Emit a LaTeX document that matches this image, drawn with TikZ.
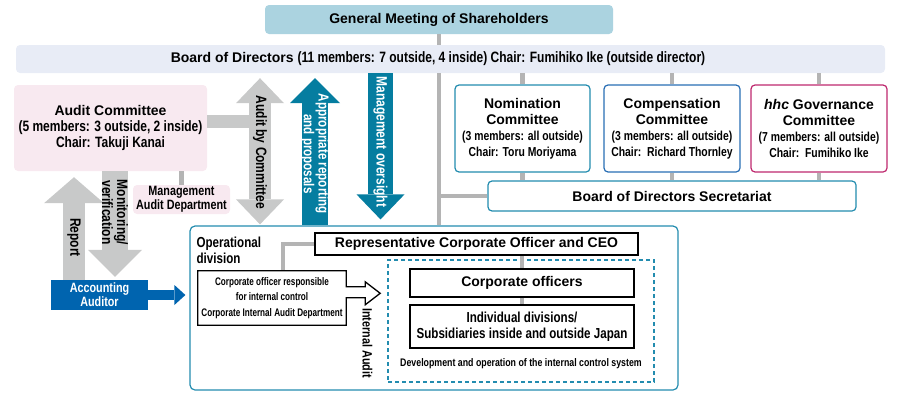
\documentclass[tikz,border=0pt]{standalone}
\usepackage{fontspec}
\setmainfont{Liberation Sans}
\newfontfamily\condfont[FakeStretch=0.8]{Liberation Sans}
\newfontfamily\narrowfont[FakeStretch=0.74]{Liberation Sans}
\usetikzlibrary{arrows.meta}
\definecolor{gmfill}{RGB}{171,211,224}
\definecolor{bdfill}{RGB}{232,236,246}
\definecolor{pinkfill}{RGB}{248,233,240}
\definecolor{tealline}{RGB}{35,140,175}
\definecolor{blueline}{RGB}{40,110,180}
\definecolor{magline}{RGB}{190,40,110}
\definecolor{tealarrow}{RGB}{5,125,160}
\definecolor{aablue}{RGB}{0,100,175}
\definecolor{arrowgray}{RGB}{200,201,201}
\definecolor{linkgray}{RGB}{180,180,180}
\newcommand{\condline}{\condfont\fontsize{13}{15.5}\selectfont}
\newcommand{\bigcond}{\condfont\fontsize{15}{16.5}\selectfont}
\newcommand{\smallcond}{\condfont\fontsize{11}{15.5}\selectfont}
\begin{document}
\begin{tikzpicture}[x=1pt,y=-1pt,
  every node/.style={inner sep=0pt, align=center, font=\bfseries\fontsize{14}{16}\selectfont},
  softbox/.style={rounded corners=4pt, minimum width=#1},
  combox/.style={draw=#1, line width=1.2pt, fill=white, rounded corners=4pt, minimum width=136pt, minimum height=87pt},
  blackbox/.style={draw=black, line width=1.6pt, fill=white},
  link/.style={draw=linkgray, line width=4.5pt},
  grayblk/.style={draw=arrowgray, line width=#1},
  tealblk/.style={draw=tealarrow, line width=#1},
  rotlabel/.style={rotate=-90, font=\bfseries\condfont\fontsize{15}{13.5}\selectfont}]
\useasboundingbox (0,0) rectangle (900,399);

% top of the structure
\node[softbox=348pt, fill=gmfill, minimum height=29pt] (gm) at (439,19.5) {General Meeting of Shareholders};
\node[softbox=869pt, fill=bdfill, minimum height=28pt] (bod) at (450.5,59) {};
\node (bodtext) at (438,59) {Board of Directors {\bigcond (11 members: 7 outside, 4 inside) Chair: Fumihiko Ike (outside director)}};

% committees
\node[combox=tealline, minimum width=135pt] (nom) at (522.5,128.5) {Nomination\\Committee\\{\condline (3 members: all outside)}\\{\condline Chair: Toru Moriyama}};
\node[combox=blueline] (comp) at (672,128.5) {Compensation\\Committee\\{\condline (3 members: all outside)}\\{\condline Chair:\ \ Richard Thornley}};
\node[combox=magline] (gov) at (819,128.5) {\textit{hhc} Governance\\Committee\\{\condline (7 members: all outside)}\\{\condline Chair:\ \ Fumihiko Ike}};
\node[draw=tealline, line width=1.2pt, fill=white, rounded corners=4pt, minimum width=368pt, minimum height=30pt] (sec) at (672,196) {Board of Directors Secretariat};

% audit side
\node[softbox=193pt, fill=pinkfill, minimum height=86pt] (ac) at (110.5,128) {Audit Committee\\{\bigcond (5 members: 3 outside, 2 inside)}\\{\bigcond Chair: Takuji Kanai}};
\node[softbox=97pt, fill=pinkfill, minimum height=29pt, font=\bfseries\condfont\fontsize{13.5}{14}\selectfont] (mad) at (181.5,199.5) {Management\\Audit Department};
\node[fill=aablue, text=white, minimum width=97pt, minimum height=30pt, font=\bfseries\condfont\fontsize{13.5}{14}\selectfont] (aa) at (99.5,295) {Accounting\\Auditor};

% operational division
\node[draw=tealline, line width=1.2pt, rounded corners=5pt, minimum width=488pt, minimum height=164pt] (op) at (434,308) {};
\node[anchor=north west, align=left, font=\bfseries\condfont\fontsize{14.5}{16}\selectfont] (optext) at ([xshift=7pt,yshift=-11pt]op.north west) {Operational\\division};
\node[blackbox, minimum width=323pt, minimum height=22pt] (ceo) at (476.5,244) {Representative Corporate Officer and CEO};
\node[minimum width=148pt, minimum height=54pt, font=\bfseries\narrowfont\fontsize{11}{15.5}\selectfont] (coi) at (272,298) {Corporate officer responsible\\for internal control\\Corporate Internal Audit Department};
\node[rotate=-90, font=\bfseries\condfont\fontsize{13.5}{14}\selectfont] (ia) at (367.5,343) {Internal Audit};
\node[draw=tealline, line width=1.2pt, dash pattern=on 4pt off 3pt, minimum width=266pt, minimum height=122pt] (ics) at (521,321) {};
\node[blackbox, minimum width=224pt, minimum height=28pt] (co) at (522,283) {Corporate officers};
\node[blackbox, minimum width=224pt, minimum height=43pt, font=\bfseries\condfont\fontsize{14.5}{16}\selectfont] (ind) at (522,326.5) {Individual divisions/\\Subsidiaries inside and outside Japan};
\node[font=\bfseries\smallcond] (dev) at (521,364) {Development and operation of the internal control system};

% columns for the connectors
\coordinate (xrep) at (74,0);
\coordinate (xmon) at (115,0);
\coordinate (xadc) at (260,0);
\coordinate (xapp) at (315,0);
\coordinate (xmgt) at (380.5,0);
\coordinate (xtrunk) at (439,0);
\coordinate (xceo) at (283,0);

% gray links
\draw[link] (gm.south) -- (gm.south |- bod.north);
\draw[link] (xtrunk |- bod.south) -- (xtrunk |- op.north);
\draw[link] (xtrunk |- sec.west) -- (sec.west);
\foreach \c in {nom,comp,gov} {
  \draw[link] (\c.north |- bod.south) -- (\c.north);
  \draw[link] (\c.south) -- (\c.south |- sec.north);
}
\draw[link] (mad.north) -- (mad.north |- ac.south);
\draw[link] (ceo.west) -| (xceo |- coi.north);
\draw[link] (co.north |- ceo.south) -- (co.north);
\draw[link] (co.south) -- (ind.north);

% outline arrow of the internal audit
\draw[line width=1.3pt, line join=miter] (coi.north west) -- (coi.north east) -- ++(0,16) -- ++(19,0) -- ++(0,-5)
  -- ++(15,11.5) -- ++(-15,11.5) -- ++(0,-7) -- ++(-19,0) |- (coi.south west) -- cycle;

% block arrows
\draw[grayblk=13pt] ([yshift=6.5pt]ac.east) -- ++(45,0);
\draw[grayblk=22pt, -{Triangle[length=26pt,width=60pt,line width=0pt]}, shorten >=6pt]
  (xrep |- aa.north) -- (xrep |- ac.south) node[rotlabel, pos=0.39] {Report};
\draw[grayblk=26pt, -{Triangle[length=27pt,width=54pt,line width=0pt]}, shorten >=3pt]
  (xmon |- ac.south) -- (xmon |- aa.north) node[rotlabel, pos=0.38] {Monitoring/\\verification};
\draw[grayblk=22pt, {Triangle[length=25pt,width=48pt,line width=0pt]}-{Triangle[length=25pt,width=48pt,line width=0pt]}, shorten <=5pt, shorten >=1pt]
  (xadc |- bod.south) -- (xadc |- op.north) node[rotlabel, pos=0.52] {Audit by Committee};
\draw[tealblk=26pt, -{Triangle[length=25pt,width=50pt,line width=0pt]}, shorten >=5pt]
  (xapp |- op.north) -- (xapp |- bod.south) node[rotlabel, pos=0.47, text=white, font=\bfseries\condfont\fontsize{14.5}{12.5}\selectfont] {Appropriate reporting\\and proposals};
\draw[tealblk=25pt, -{Triangle[length=25pt,width=48pt,line width=0pt]}, shorten >=6pt]
  (xmgt |- bod.south) -- (xmgt |- op.north) node[rotlabel, pos=0.45, text=white] {Management oversight};
\draw[draw=aablue, line width=10pt, -{Triangle[length=11pt,width=20pt,line width=0pt]}, shorten >=4pt]
  (aa.east) -- (op.west |- aa.east);
\end{tikzpicture}
\end{document}
